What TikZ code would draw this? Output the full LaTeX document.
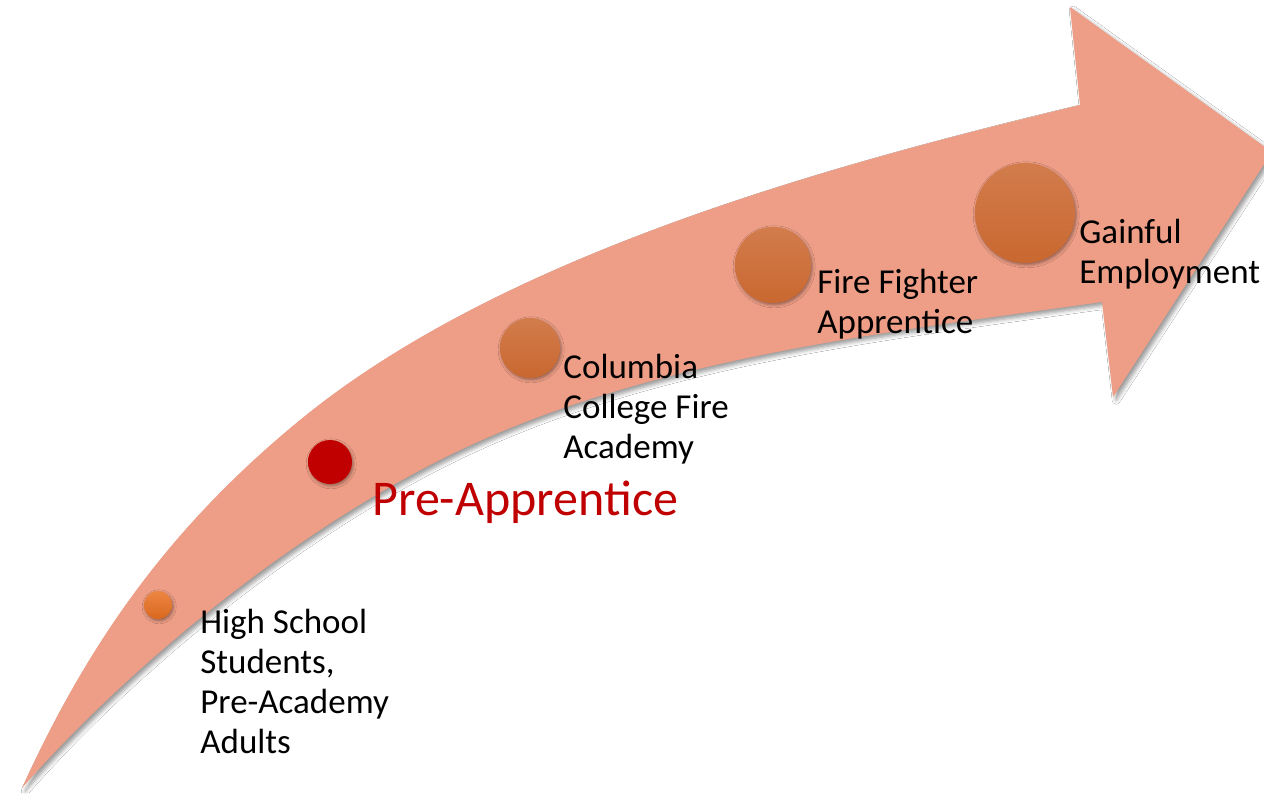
\documentclass[tikz,border=0pt]{standalone}
\usepackage{fontspec}
\setmainfont{Carlito}
\usetikzlibrary{shadows.blur}
\definecolor{band}{RGB}{238,158,134}
\definecolor{dottop}{RGB}{210,124,76}
\definecolor{dotbot}{RGB}{201,104,48}
\definecolor{smalltop}{RGB}{236,134,66}
\definecolor{smallbot}{RGB}{218,104,30}
\definecolor{prered}{RGB}{192,0,0}
\begin{document}
\begin{tikzpicture}[x=0.5pt,y=-0.5pt,
  arrowfill/.style={fill=band, blur shadow={shadow xshift=1.6pt, shadow yshift=-1.6pt, shadow blur radius=2pt, shadow opacity=40}},
  dot/.style={circle, inner sep=0pt, draw=none, top color=dottop, bottom color=dotbot,
    blur shadow={shadow xshift=0.6pt, shadow yshift=-0.9pt, shadow blur radius=1.5pt, shadow opacity=40}},
  lbl/.style={anchor=base west, inner sep=0pt, align=left, font=\fontsize{17.5}{20}\selectfont, text=black}]
\useasboundingbox (0,0) rectangle (1264,793);
\fill[white] (0,0) rectangle (1264,793);
% curved arrow
\coordinate (tail) at (22,788);
\coordinate (um) at (300,420);
\coordinate (uj) at (1080,105);
\coordinate (htop) at (1070,7);
\coordinate (tip) at (1272,152);
\coordinate (hbot) at (1113,397);
\coordinate (lj) at (1102,302);
\coordinate (lm) at (450,455);
\fill[arrowfill] (tail)
  .. controls (90.3,637.9) and (172.5,524.6) .. (um)
  .. controls (501,255.2) and (827.3,165.6) .. (uj)
  -- (htop) -- (tip) -- (hbot) -- (lj)
  .. controls (884.2,332.6) and (647.6,358.2) .. (lm)
  .. controls (297.3,529.8) and (134.2,660.5) .. (tail)
  -- cycle;
% dots
\node[dot, minimum size=14pt, top color=smalltop, bottom color=smallbot] (c1) at (158,605) {};
\node[dot, minimum size=22pt, top color=prered, bottom color=prered] (c2) at (330,462) {};
\node[dot, minimum size=30pt] (c3) at (530,348) {};
\node[dot, minimum size=38pt] (c4) at (773,265) {};
\node[dot, minimum size=50pt] (c5) at (1025,213) {};
% labels (anchor = baseline of the last line)
\node[lbl] (t1) at (200,753) {High School\\Students,\\Pre-Academy\\Adults};
\node[lbl, font=\fontsize{25}{29}\selectfont, text=prered] (t2) at (372,515) {Pre-Apprentice};
\node[lbl] (t3) at (563,458) {Columbia\\College Fire\\Academy};
\node[lbl] (t4) at (817,333) {Fire Fighter\\Apprentice};
\node[lbl] (t5) at (1079,283) {Gainful\\Employment};
\end{tikzpicture}
\end{document}
